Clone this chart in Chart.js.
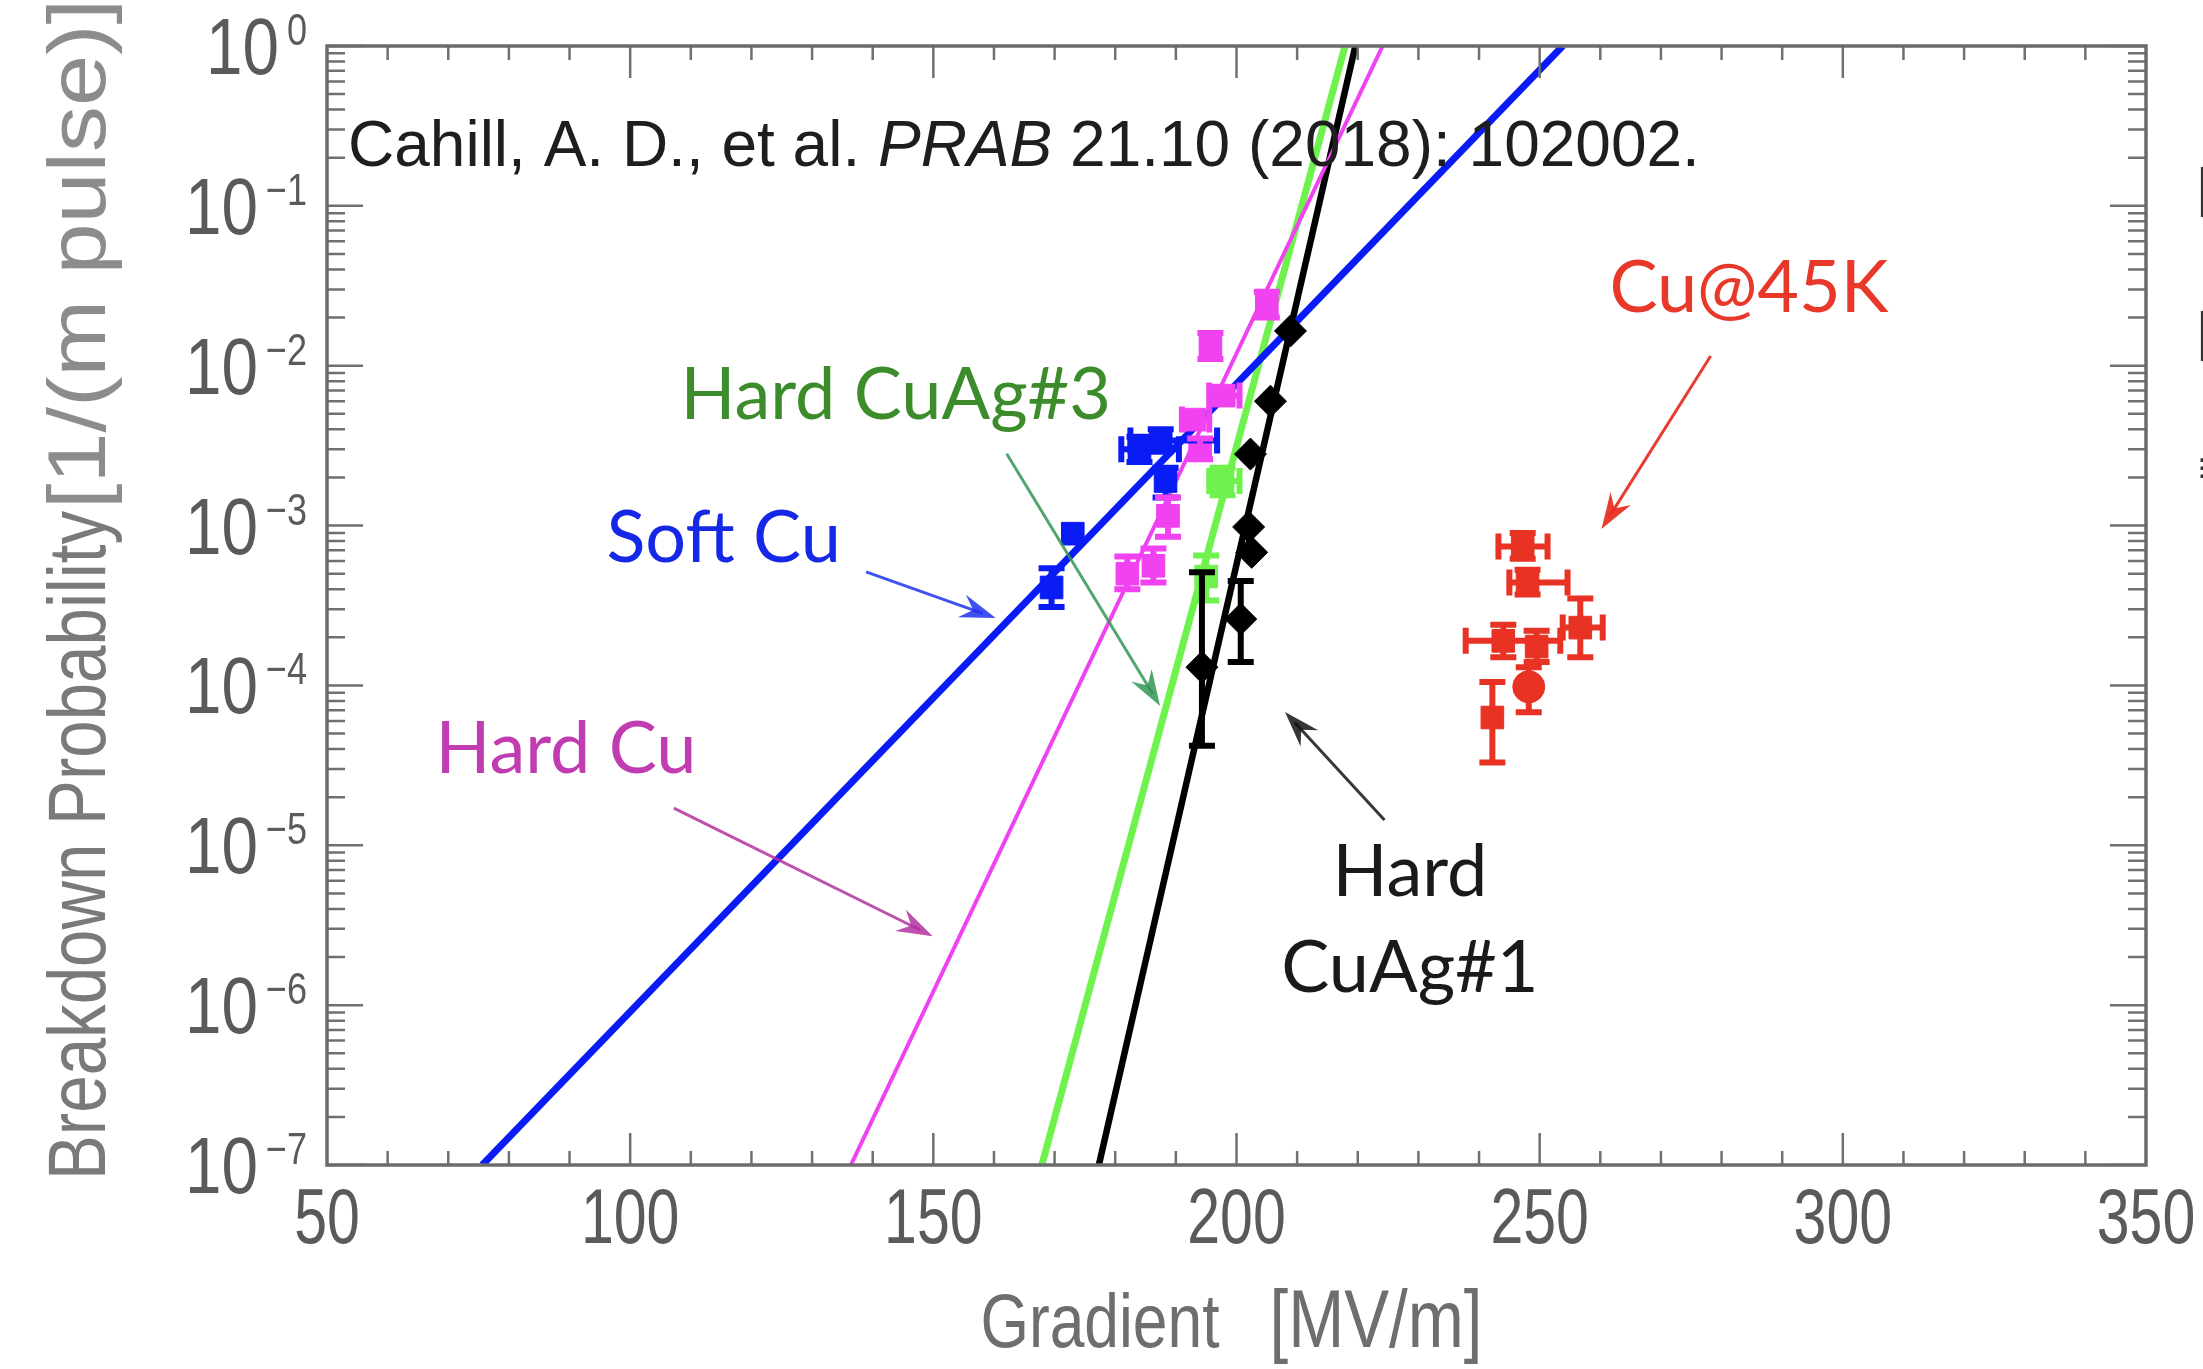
<!DOCTYPE html>
<html>
<head>
<meta charset="utf-8">
<script src="https://cdn.jsdelivr.net/npm/chart.js@4.4.0/dist/chart.umd.min.js"></script>
<style>
  html, body { margin: 0; padding: 0; background: #fff; overflow: hidden; }
  canvas { display: block; }
</style>
</head>
<body>
<canvas id="bdrChart" width="2203" height="1369"></canvas>
<script>
// Axis ticks
const xTickValues = [50, 100, 150, 200, 250, 300, 350];
const xTickLabels = ['50', '100', '150', '200', '250', '300', '350'];
const yTickValues = [1, 1e-1, 1e-2, 1e-3, 1e-4, 1e-5, 1e-6, 1e-7];
const yTickExponents = ['0', '\u22121', '\u22122', '\u22123', '\u22124', '\u22125', '\u22126', '\u22127'];

// Soft Cu (blue)
const softCuX = [169.5, 173.0, 184.0, 187.5, 188.3];
const softCuY = [4.1e-4, 8.9e-4, 3.0e-3, 3.4e-3, 1.9e-3];
const softCuXErr = [null, null, [181.0, 190.5], [182.5, 196.8], null];
const softCuYErr = [[3.1e-4, 5.4e-4], null, [2.5e-3, 3.6e-3], [2.9e-3, 4.0e-3], [1.5e-3, 2.3e-3]];

// Hard Cu (magenta)
const hardCuX = [182.0, 186.3, 188.7, 193.0, 194.0, 197.9, 195.7, 205.0];
const hardCuY = [5.0e-4, 5.6e-4, 1.15e-3, 4.6e-3, 3.0e-3, 6.5e-3, 1.35e-2, 2.4e-2];
const hardCuXErr = [null, null, null, [191.0, 195.5], null, [195.5, 200.5], null, null];
const hardCuYErr = [[4.0e-4, 6.4e-4], [4.4e-4, 7.2e-4], [8.5e-4, 1.5e-3], null, [2.6e-3, 3.5e-3], null, [1.1e-2, 1.6e-2], [2.0e-2, 2.9e-2]];

// Hard CuAg#3 (green)
const cuag3X = [195.0, 197.7];
const cuag3Y = [4.8e-4, 1.9e-3];
const cuag3XErr = [null, [195.5, 200.5]];
const cuag3YErr = [[3.4e-4, 6.5e-4], [1.55e-3, 2.3e-3]];

// Hard CuAg#1 (black)
const cuag1X = [194.3, 200.7, 202.5, 202.0, 202.3, 205.6, 208.9];
const cuag1Y = [1.3e-4, 2.6e-4, 6.8e-4, 9.8e-4, 2.8e-3, 6.0e-3, 1.65e-2];
const cuag1XErr = [null, null, null, null, null, null, null];
const cuag1YErr = [[4.2e-5, 5.1e-4], [1.4e-4, 4.5e-4], null, null, null, null, null];

// Cu@45K (red)
const cu45X = [247.2, 248.0, 256.7, 244.0, 249.5, 248.2, 242.2];
const cu45Y = [7.4e-4, 4.4e-4, 2.3e-4, 1.9e-4, 1.75e-4, 9.8e-5, 6.3e-5];
const cu45XErr = [[243.2, 251.3], [245.0, 254.6], [253.8, 260.4], [237.8, 253.4], null, null, null];
const cu45YErr = [[6.2e-4, 9.0e-4], [3.7e-4, 5.3e-4], [1.5e-4, 3.5e-4], [1.5e-4, 2.4e-4], [1.4e-4, 2.2e-4], [6.8e-5, 1.3e-4], [3.3e-5, 1.05e-4]];
const cu45Styles = ['rect', 'rect', 'rect', 'rect', 'rect', 'circle', 'rect'];

// Fit lines (end points read at the frame)
const fitY = [1e-7, 1];
const softFitX = [75.6, 253.8];
const hardCuFitX = [136.4, 224.1];
const cuag3FitX = [167.9, 217.9];
const cuag1FitX = [177.3, 219.6];

// Annotations, placed in data coordinates
const labelTexts = ['Hard CuAg#3', 'Soft Cu', 'Hard Cu', 'Hard', 'CuAg#1', 'Cu@45K'];
const labelX = [108.3, 96.1, 67.9, 228.6, 228.6, 261.5];
const labelY = [4.65e-3, 5.93e-4, 2.83e-5, 4.81e-6, 1.2e-6, 2.18e-2];
const labelAlign = ['left', 'left', 'left', 'center', 'center', 'left'];
const labelColors = ['#3c8c2c', '#1428e6', '#c03cb0', '#1a1a1a', '#1a1a1a', '#e8382a'];

const arrowFrom = [[162.1, 2.81e-3], [138.9, 5.13e-4], [107.2, 1.71e-5], [224.4, 1.44e-5], [278.2, 1.15e-2]];
const arrowTo = [[187.4, 7.43e-5], [160.3, 2.64e-4], [149.9, 2.70e-6], [208.0, 6.82e-5], [260.2, 9.53e-4]];
const arrowColors = ['rgba(50,150,85,0.85)', 'rgba(30,50,240,0.85)', 'rgba(180,50,160,0.85)', 'rgba(20,20,20,0.85)', 'rgba(232,50,36,0.95)'];

const citation = ['Cahill, A. D., et al. ', 'PRAB', ' 21.10 (2018): 102002.'];

const pointSeries = [
  { x: softCuX, y: softCuY, xErr: softCuXErr, yErr: softCuYErr, color: '#0a1cf5', style: 'rect' },
  { x: hardCuX, y: hardCuY, xErr: hardCuXErr, yErr: hardCuYErr, color: '#f042f0', style: 'rect' },
  { x: cuag3X, y: cuag3Y, xErr: cuag3XErr, yErr: cuag3YErr, color: '#70f24e', style: 'rect' },
  { x: cuag1X, y: cuag1Y, xErr: cuag1XErr, yErr: cuag1YErr, color: '#000000', style: 'rectRot' },
  { x: cu45X, y: cu45Y, xErr: cu45XErr, yErr: cu45YErr, color: '#e83224', style: cu45Styles },
];

const fitSeries = [
  { x: softFitX, color: '#0a1cf5', width: 7 },
  { x: hardCuFitX, color: '#f042f0', width: 4 },
  { x: cuag3FitX, color: '#70f24e', width: 7 },
  { x: cuag1FitX, color: '#000000', width: 6.5 },
];

const toPoints = (xs, ys) => xs.map((v, i) => ({ x: v, y: ys[i] }));

let narrowFont = '"Liberation Sans Narrow"';
let narrowScale = 1;

function checkNarrow(ctx) {
  ctx.font = '50px "Liberation Sans Narrow", "Liberation Sans"';
  const a = ctx.measureText('Breakdown Probability').width;
  ctx.font = '50px "Liberation Sans"';
  const b = ctx.measureText('Breakdown Probability').width;
  if (a > b * 0.95) {
    narrowFont = '"Liberation Sans"';
    narrowScale = 0.82;
  }
}

// draw narrow text with optional horizontal squeeze
function narrowText(ctx, str, x, y, size, align, stretchY) {
  ctx.save();
  ctx.font = size + 'px ' + narrowFont;
  const w = ctx.measureText(str).width * narrowScale;
  let left = x;
  if (align === 'center') left = x - w / 2;
  if (align === 'right') left = x - w;
  ctx.translate(left, y);
  ctx.scale(narrowScale, stretchY || 1);
  ctx.textAlign = 'left';
  ctx.fillText(str, 0, 0);
  ctx.restore();
  return w;
}

function narrowWidth(ctx, str, size) {
  ctx.save();
  ctx.font = size + 'px ' + narrowFont;
  const w = ctx.measureText(str).width * narrowScale;
  ctx.restore();
  return w;
}

const errorBarPlugin = {
  id: 'errorBars',
  afterDatasetsDraw(chart) {
    const { ctx, scales: { x, y } } = chart;
    const cap = 13;
    ctx.save();
    ctx.lineWidth = 6;
    pointSeries.forEach(s => {
      ctx.strokeStyle = s.color;
      s.x.forEach((xv, i) => {
        const px = x.getPixelForValue(xv);
        const py = y.getPixelForValue(s.y[i]);
        const ye = s.yErr[i];
        const xe = s.xErr[i];
        ctx.beginPath();
        if (ye) {
          const p1 = y.getPixelForValue(ye[0]);
          const p2 = y.getPixelForValue(ye[1]);
          ctx.moveTo(px, p1); ctx.lineTo(px, p2);
          ctx.moveTo(px - cap, p1); ctx.lineTo(px + cap, p1);
          ctx.moveTo(px - cap, p2); ctx.lineTo(px + cap, p2);
        }
        if (xe) {
          const q1 = x.getPixelForValue(xe[0]);
          const q2 = x.getPixelForValue(xe[1]);
          ctx.moveTo(q1, py); ctx.lineTo(q2, py);
          ctx.moveTo(q1, py - cap); ctx.lineTo(q1, py + cap);
          ctx.moveTo(q2, py - cap); ctx.lineTo(q2, py + cap);
        }
        ctx.stroke();
      });
    });
    ctx.restore();
  }
};

const framePlugin = {
  id: 'frame',
  afterDraw(chart) {
    const { ctx, chartArea: a, scales: { x, y } } = chart;
    checkNarrow(ctx);
    ctx.save();
    ctx.strokeStyle = '#707070';
    ctx.lineWidth = 2.5;

    // x ticks: minor every 10, major every 50, bottom and top, inward
    ctx.beginPath();
    for (let v = 60; v < 350; v += 10) {
      const px = x.getPixelForValue(v);
      const len = v % 50 === 0 ? 32 : 14;
      ctx.moveTo(px, a.bottom); ctx.lineTo(px, a.bottom - len);
      ctx.moveTo(px, a.top); ctx.lineTo(px, a.top + len);
    }
    // y ticks: decades major, 2..9 minor, left and right, inward
    for (let e = -7; e <= 0; e++) {
      for (let m = 1; m <= 9; m++) {
        const v = m * Math.pow(10, e);
        if (v > 1) break;
        const py = y.getPixelForValue(v);
        const len = m === 1 ? 36 : 18;
        ctx.moveTo(a.left, py); ctx.lineTo(a.left + len, py);
        ctx.moveTo(a.right, py); ctx.lineTo(a.right - len, py);
      }
    }
    ctx.stroke();

    ctx.lineWidth = 3.5;
    ctx.strokeStyle = '#6b6b6b';
    ctx.strokeRect(a.left, a.top, a.right - a.left, a.bottom - a.top);

    // x tick labels
    ctx.fillStyle = '#5a5a5a';
    ctx.textBaseline = 'alphabetic';
    xTickValues.forEach((v, i) => {
      narrowText(ctx, xTickLabels[i], x.getPixelForValue(v), a.bottom + 78, 72, 'center', 1.08);
    });

    // y tick labels: 10 with superscript exponent
    yTickValues.forEach((v, i) => {
      const py = y.getPixelForValue(v);
      const right = a.left - 20;
      const sw = narrowWidth(ctx, yTickExponents[i], 44);
      const bw = narrowWidth(ctx, '10', 80);
      const gap = 8;
      narrowText(ctx, '10', right - sw - gap - bw, py + 28, 80, 'left');
      narrowText(ctx, yTickExponents[i], right - sw, py - 32 + 31, 44, 'left');
    });

    // axis titles
    const cx = (a.left + a.right) / 2;
    ctx.fillStyle = '#6e6e6e';
    narrowText(ctx, 'Gradient', cx - 17, a.bottom + 182, 76, 'right');
    narrowText(ctx, '[MV/m]', cx + 33, a.bottom + 182, 82, 'left');

    ctx.save();
    ctx.translate(105, 1180);
    ctx.rotate(-Math.PI / 2);
    ctx.fillStyle = '#7a7a7a';
    narrowText(ctx, 'Breakdown Probability', 0, 0, 82, 'left');
    const suffix = '[1/(m pulse)]';
    const sw = narrowWidth(ctx, suffix, 82);
    ctx.translate(1180 - 509, 0);
    ctx.scale(510 / sw, 1);
    ctx.fillStyle = '#8c8c8c';
    narrowText(ctx, suffix, 0, 0, 82, 'left');
    ctx.restore();

    // citation
    ctx.fillStyle = '#1e1e1e';
    let cxp = a.left + 21;
    const cy = a.top + 120;
    citation.forEach((part, i) => {
      ctx.font = (i === 1 ? 'italic ' : '') + '64px "Liberation Sans", Arial, sans-serif';
      ctx.textAlign = 'left';
      ctx.fillText(part, cxp, cy);
      cxp += ctx.measureText(part).width;
    });

    // arrows
    arrowFrom.forEach((f, i) => {
      const x1 = x.getPixelForValue(f[0]), y1 = y.getPixelForValue(f[1]);
      const x2 = x.getPixelForValue(arrowTo[i][0]), y2 = y.getPixelForValue(arrowTo[i][1]);
      const ang = Math.atan2(y2 - y1, x2 - x1);
      ctx.strokeStyle = arrowColors[i];
      ctx.fillStyle = arrowColors[i];
      ctx.lineWidth = 3;
      ctx.beginPath();
      ctx.moveTo(x1, y1);
      ctx.lineTo(x2 - 14 * Math.cos(ang), y2 - 14 * Math.sin(ang));
      ctx.stroke();
      const L = 36, W = 12, N = 12;
      ctx.beginPath();
      ctx.moveTo(x2, y2);
      ctx.lineTo(x2 - L * Math.cos(ang) + W * Math.sin(ang), y2 - L * Math.sin(ang) - W * Math.cos(ang));
      ctx.lineTo(x2 - (L - N) * Math.cos(ang), y2 - (L - N) * Math.sin(ang));
      ctx.lineTo(x2 - L * Math.cos(ang) - W * Math.sin(ang), y2 - L * Math.sin(ang) + W * Math.cos(ang));
      ctx.closePath();
      ctx.fill();
    });

    // labels
    labelTexts.forEach((t, i) => {
      ctx.font = '72px Lato, "Open Sans", sans-serif';
      ctx.fillStyle = labelColors[i];
      ctx.textAlign = labelAlign[i];
      ctx.fillText(t, x.getPixelForValue(labelX[i]), y.getPixelForValue(labelY[i]));
    });

    // text fragments cut at the right edge of the picture
    ctx.fillStyle = '#333';
    ctx.textAlign = 'left';
    ctx.font = '72px "Liberation Sans"';
    ctx.fillText('E', 2195, 217);
    ctx.fillText('E', 2195, 361);
    ctx.font = '44px "DejaVu Sans"';
    ctx.fillText('\u2261', 2196, 482);
    ctx.restore();
  }
};

const datasets = [];
fitSeries.forEach(f => {
  datasets.push({
    data: toPoints(f.x, fitY),
    showLine: true,
    borderColor: f.color,
    borderWidth: f.width,
    pointRadius: 0,
    order: 5,
  });
});
pointSeries.forEach(s => {
  datasets.push({
    data: toPoints(s.x, s.y),
    showLine: false,
    backgroundColor: s.color,
    borderColor: s.color,
    borderWidth: 1,
    pointStyle: s.style,
    pointRadius: 16,
    order: 1,
  });
});

new Chart(document.getElementById('bdrChart'), {
  type: 'scatter',
  data: { datasets },
  options: {
    responsive: false,
    animation: false,
    devicePixelRatio: 1,
    layout: { padding: { left: 327, top: 46, right: 57, bottom: 204 } },
    plugins: { legend: { display: false }, tooltip: { enabled: false } },
    scales: {
      x: { type: 'linear', min: 50, max: 350, display: false },
      y: { type: 'logarithmic', min: 1e-7, max: 1, display: false },
    },
  },
  plugins: [errorBarPlugin, framePlugin],
});
</script>
</body>
</html>
